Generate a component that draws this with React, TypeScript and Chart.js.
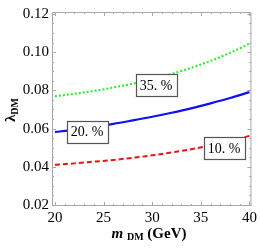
import React, { useEffect, useRef } from "react";
import { Chart, registerables } from "chart.js";

Chart.register(...registerables);

const massGeV = [20, 22, 24, 26, 28, 30, 32, 34, 36, 38, 40];
const lambda35 = [0.0769, 0.0782, 0.0797, 0.0815, 0.0835, 0.0859, 0.0886, 0.0918, 0.0954, 0.0996, 0.1045];
const lambda20 = [0.0582, 0.0595, 0.061, 0.0625, 0.0643, 0.0662, 0.0683, 0.0706, 0.0732, 0.076, 0.0791];
const lambda10 = [0.0411, 0.0418, 0.0427, 0.0436, 0.0447, 0.046, 0.0475, 0.0492, 0.0512, 0.0535, 0.0562];

const xTickValues = [20, 25, 30, 35, 40];
const yTickValues = [0.02, 0.04, 0.06, 0.08, 0.1, 0.12];

const curveLabels = ["35. %", "20. %", "10. %"];
const curveLabelX = [30.4, 23.3, 37.4];
const curveLabelY = [0.0826, 0.0584, 0.0498];

const SERIF = '"Liberation Serif", "DejaVu Serif", serif';

const framePlugin = {
  id: "mmaFrame",
  afterDatasetsDraw(chart: any) {
    const { ctx, chartArea: a, scales } = chart;
    const xs = scales.x;
    const ys = scales.y;
    ctx.save();
    ctx.strokeStyle = "#a8a8a8";
    ctx.lineWidth = 1;
    ctx.beginPath();
    ctx.rect(a.left + 0.5, a.top + 0.5, a.right - a.left - 1, a.bottom - a.top - 1);
    ctx.stroke();

    const line = (x1: number, y1: number, x2: number, y2: number) => {
      ctx.beginPath();
      ctx.moveTo(x1, y1);
      ctx.lineTo(x2, y2);
      ctx.stroke();
    };
    for (let v = 20; v <= 40; v += 1) {
      const major = v % 5 === 0;
      const len = major ? 4 : 2;
      const px = Math.round(xs.getPixelForValue(v)) + 0.5;
      line(px, a.bottom, px, a.bottom - len);
      line(px, a.top, px, a.top + len);
    }
    for (let i = 0; i <= 20; i++) {
      const v = 0.02 + i * 0.005;
      const major = i % 4 === 0;
      const len = major ? 4 : 2;
      const py = Math.round(ys.getPixelForValue(v)) + 0.5;
      line(a.left, py, a.left + len, py);
      line(a.right, py, a.right - len, py);
    }

    ctx.font = "14px " + SERIF;
    ctx.textAlign = "center";
    ctx.textBaseline = "middle";
    for (let i = 0; i < curveLabels.length; i++) {
      const cx = xs.getPixelForValue(curveLabelX[i]);
      const cy = ys.getPixelForValue(curveLabelY[i]);
      const w = ctx.measureText(curveLabels[i]).width + 8;
      const h = 22;
      const bx = Math.round(cx - w / 2) + 0.5;
      const by = Math.round(cy - h / 2) + 0.5;
      ctx.fillStyle = "#ffffff";
      ctx.fillRect(bx, by, Math.round(w), h);
      ctx.strokeStyle = "#555555";
      ctx.lineWidth = 1.2;
      ctx.strokeRect(bx, by, Math.round(w), h);
      ctx.fillStyle = "#000000";
      ctx.fillText(curveLabels[i], cx, cy + 1);
    }

    ctx.textAlign = "left";
    ctx.textBaseline = "alphabetic";
    ctx.fillStyle = "#000000";
    const parts = [
      { t: "m", f: "italic bold 15px " + SERIF, dy: 0 },
      { t: " ", f: "bold 15px " + SERIF, dy: 0 },
      { t: "DM", f: "bold 10px " + SERIF, dy: 2 },
      { t: " (GeV)", f: "bold 15px " + SERIF, dy: 0 },
    ];
    let total = 0;
    for (const p of parts) {
      ctx.font = p.f;
      total += ctx.measureText(p.t).width;
    }
    let x0 = 149 - total / 2;
    const base = 238;
    for (const p of parts) {
      ctx.font = p.f;
      ctx.fillText(p.t, x0, base + p.dy);
      x0 += ctx.measureText(p.t).width;
    }

    ctx.save();
    ctx.translate(15, 110);
    ctx.rotate(-Math.PI / 2);
    const yparts = [
      { t: "λ", f: "bold 15px " + SERIF, dy: 0 },
      { t: "DM", f: "bold 10px " + SERIF, dy: 3 },
    ];
    let ytot = 0;
    for (const p of yparts) {
      ctx.font = p.f;
      ytot += ctx.measureText(p.t).width;
    }
    let y0 = -ytot / 2;
    for (const p of yparts) {
      ctx.font = p.f;
      ctx.fillText(p.t, y0, p.dy);
      y0 += ctx.measureText(p.t).width;
    }
    ctx.restore();

    ctx.restore();
  },
};

export default function App() {
  const canvasRef = useRef<HTMLCanvasElement | null>(null);

  useEffect(() => {
    document.body.style.margin = "0";
    const canvas = canvasRef.current;
    if (!canvas) return;
    const toPts = (ys: number[]) => massGeV.map((m, i) => ({ x: m, y: ys[i] }));
    const chart = new Chart(canvas, {
      type: "line",
      data: {
        datasets: [
          {
            data: toPts(lambda35),
            borderColor: "#22ee22",
            borderWidth: 2,
            borderDash: [2, 2],
            pointRadius: 0,
            cubicInterpolationMode: "monotone",
          },
          {
            data: toPts(lambda20),
            borderColor: "#1010ee",
            borderWidth: 2.2,
            pointRadius: 0,
            cubicInterpolationMode: "monotone",
          },
          {
            data: toPts(lambda10),
            borderColor: "#ee1111",
            borderWidth: 2,
            borderDash: [5, 3],
            pointRadius: 0,
            cubicInterpolationMode: "monotone",
          },
        ],
      },
      options: {
        animation: false,
        responsive: false,
        devicePixelRatio: 1,
        layout: { padding: { top: 5, right: 5, left: 0, bottom: 0 } },
        plugins: { legend: { display: false }, tooltip: { enabled: false } },
        scales: {
          x: {
            type: "linear",
            min: 19.7,
            max: 40.2,
            grid: { display: false, drawTicks: false },
            border: { display: false },
            afterBuildTicks: (s: any) => {
              s.ticks = xTickValues.map((v) => ({ value: v }));
            },
            afterFit: (s: any) => {
              s.height = 43;
            },
            ticks: {
              padding: 3,
              color: "#000",
              font: { family: SERIF, size: 15 },
              callback: (v: any) => String(v),
            },
          },
          y: {
            type: "linear",
            min: 0.0195,
            max: 0.121,
            grid: { display: false, drawTicks: false },
            border: { display: false },
            afterBuildTicks: (s: any) => {
              s.ticks = yTickValues.map((v) => ({ value: v }));
            },
            afterFit: (s: any) => {
              s.width = 52;
            },
            ticks: {
              padding: 3,
              color: "#000",
              font: { family: SERIF, size: 15 },
              callback: (v: any) => Number(v).toFixed(2),
            },
          },
        },
      },
      plugins: [framePlugin],
    } as any);
    return () => chart.destroy();
  }, []);

  return (
    <div style={{ width: 260, height: 249 }}>
      <canvas ref={canvasRef} width={260} height={249} />
    </div>
  );
}
